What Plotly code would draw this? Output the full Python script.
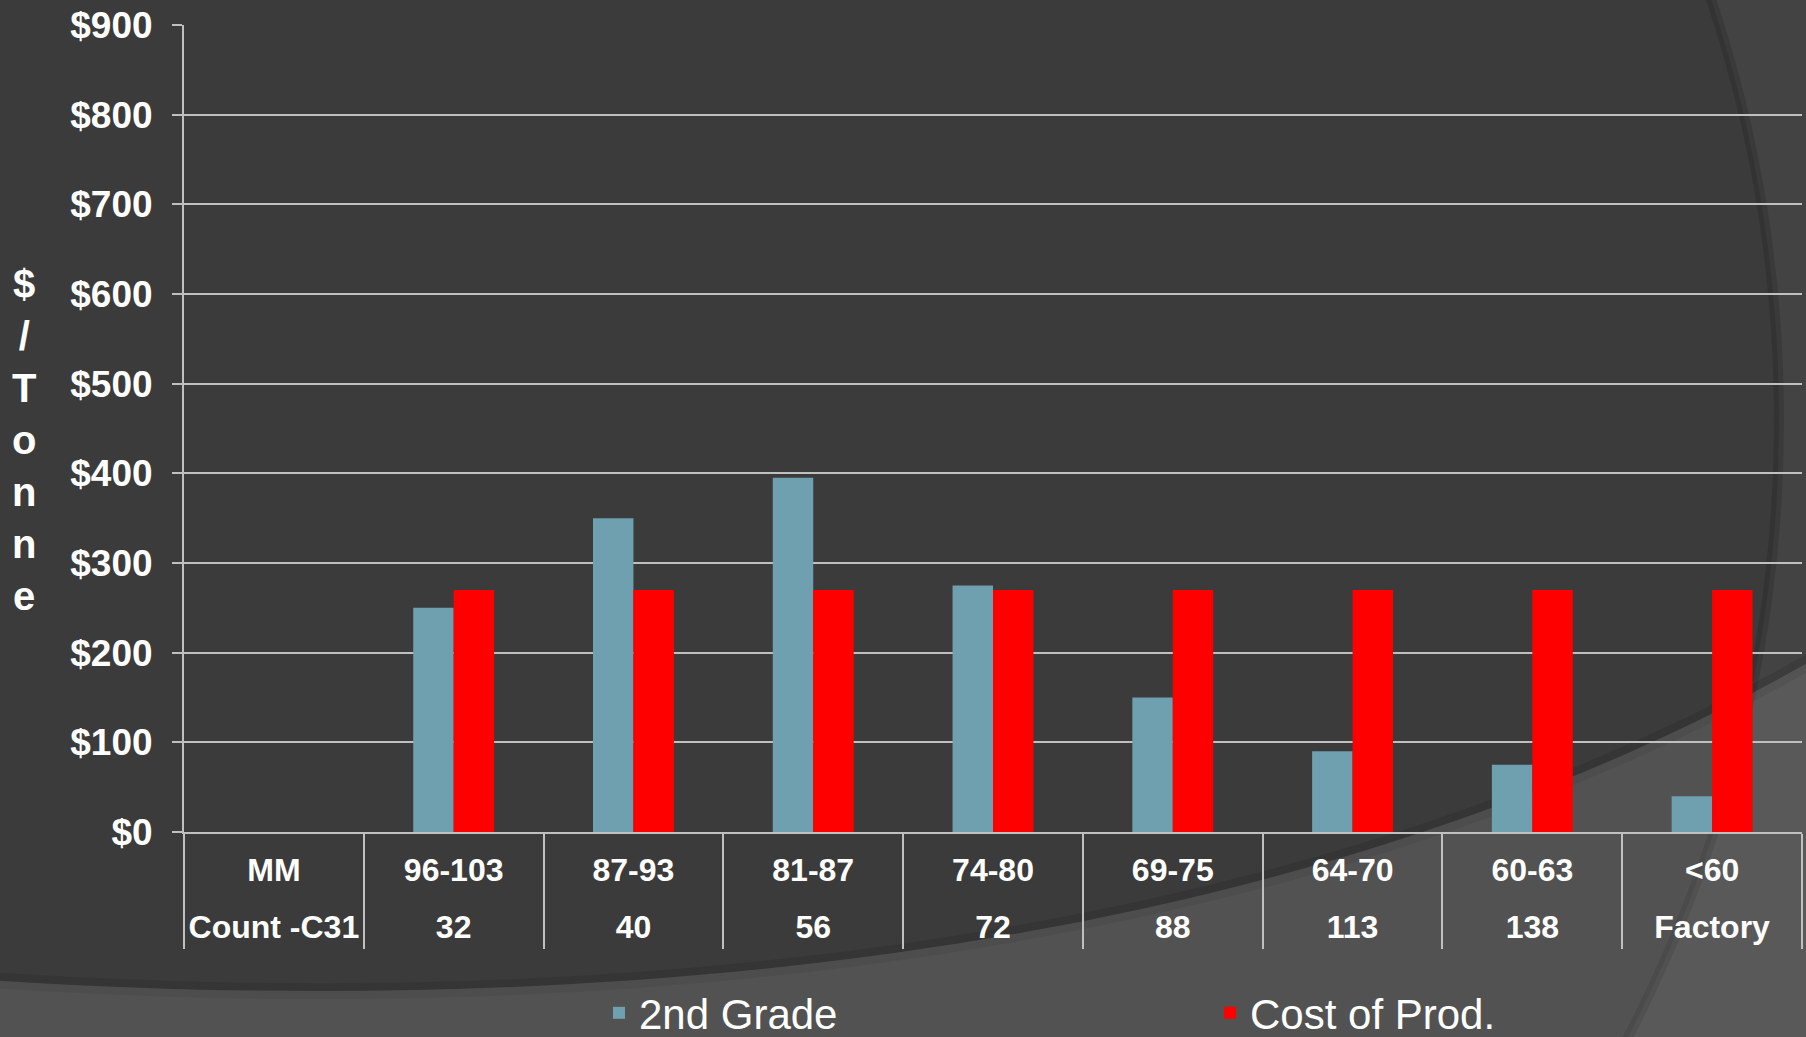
import plotly.graph_objects as go

# --- data ---
mm_sizes = ["MM", "96-103", "87-93", "81-87", "74-80", "69-75", "64-70", "60-63", "<60"]
counts = ["Count -C31", "32", "40", "56", "72", "88", "113", "138", "Factory"]
second_grade = [None, 250, 350, 395, 275, 150, 90, 75, 40]
cost_of_prod = [None, 270, 270, 270, 270, 270, 270, 270, 270]
y_tickvals = [0, 100, 200, 300, 400, 500, 600, 700, 800, 900]
y_ticktext = ["$0", "$100", "$200", "$300", "$400", "$500", "$600", "$700", "$800", "$900"]

FONT = "Liberation Sans, Arial, sans-serif"
GRID = "#c0c0c0"

# plot area in pixels (used only to place the background decoration)
L, T, W, H = 184, 25, 1618, 807


def fx(px):
    return (px - L) / W


def fy(py):
    return (T + H - py) / H


fig = go.Figure()
fig.add_trace(go.Bar(x=mm_sizes, y=second_grade, name="2nd Grade",
                     marker=dict(color="#6fa0b0", line=dict(width=0))))
fig.add_trace(go.Bar(x=mm_sizes, y=cost_of_prod, name="Cost of Prod.",
                     marker=dict(color="#ff0000", line=dict(width=0))))
# second label row of the category table (carries only the labels)
fig.add_trace(go.Scatter(x=counts, y=[None] * len(counts), xaxis="x2", mode="none",
                         showlegend=False, hoverinfo="skip"))

# background swoosh decoration of the slide theme
curve = "M {},{} C {},{} {},{} {},{}".format(fx(-10), fy(980), fx(600), fy(1020), fx(1300), fy(960), fx(1830), fy(650))
band = curve + " L {},{} L {},{} Z".format(fx(1830), fy(1040), fx(-10), fy(1040))
cx, cy, r = 443, 420, 1336
shapes = [
    dict(type="circle", xref="paper", yref="paper", layer="below",
         x0=fx(cx - r), x1=fx(cx + r), y0=fy(cy + r), y1=fy(cy - r),
         fillcolor="#3b3b3b", line=dict(color="rgba(0,0,0,0.13)", width=10)),
    dict(type="path", xref="paper", yref="paper", layer="below", path=curve,
         line=dict(color="rgba(0,0,0,0.10)", width=16)),
    dict(type="path", xref="paper", yref="paper", layer="below", path=band,
         fillcolor="rgba(255,255,255,0.12)", line=dict(width=0)),
]

fig.update_layout(
    width=1806, height=1037, autosize=False,
    margin=dict(l=L, r=1806 - L - W, t=T, b=1037 - T - H),
    paper_bgcolor="#434343",
    plot_bgcolor="rgba(0,0,0,0)",
    font=dict(family=FONT, color="white"),
    barmode="group", bargap=0.55, bargroupgap=0,
    shapes=shapes,
    showlegend=True,
    legend=dict(orientation="h", xref="container", yref="container",
                x=599 / 1806, y=(1037 - 1013) / 1037, xanchor="left", yanchor="middle",
                font=dict(size=42, color="white", family=FONT),
                bgcolor="rgba(0,0,0,0)", entrywidth=566, entrywidthmode="pixels",
                traceorder="normal"),
    annotations=[dict(text="$<br>/<br>T<br>o<br>n<br>n<br>e", xref="paper", yref="paper",
                      x=fx(24), y=fy(440), xanchor="center", yanchor="middle",
                      showarrow=False, font=dict(size=40, color="white", family=FONT, weight="bold"))],
)

fig.update_yaxes(range=[0, 900], tickvals=y_tickvals, ticktext=y_ticktext,
                 showgrid=True, gridcolor=GRID, gridwidth=2,
                 showline=True, linecolor=GRID, linewidth=2,
                 ticks="outside", ticklen=10, tickcolor=GRID, tickwidth=2,
                 ticklabelstandoff=12, zeroline=False,
                 tickfont=dict(size=37, color="white", family=FONT, weight="bold"))

# first row of the category table (with the divider lines)
fig.update_layout(xaxis=dict(
    type="category", showgrid=False, showline=True, linecolor=GRID, linewidth=2,
    range=[-0.5, len(mm_sizes) - 0.5],
    ticks="outside", tickson="boundaries", ticklen=115, tickcolor=GRID, tickwidth=2,
    ticklabelstandoff=9,
    tickfont=dict(size=32, color="white", family=FONT, weight="bold")))
# second row of the category table
fig.update_layout(xaxis2=dict(
    overlaying="x", anchor="y", side="bottom", type="category", range=[-0.5, len(counts) - 0.5],
    ticks="", showgrid=False, showline=False, zeroline=False, ticklabelstandoff=73,
    tickfont=dict(size=32, color="white", family=FONT, weight="bold")))

fig.write_html("out.html", config={"displayModeBar": False},
               post_script="document.body.style.margin='0';document.body.style.overflow='hidden';")
